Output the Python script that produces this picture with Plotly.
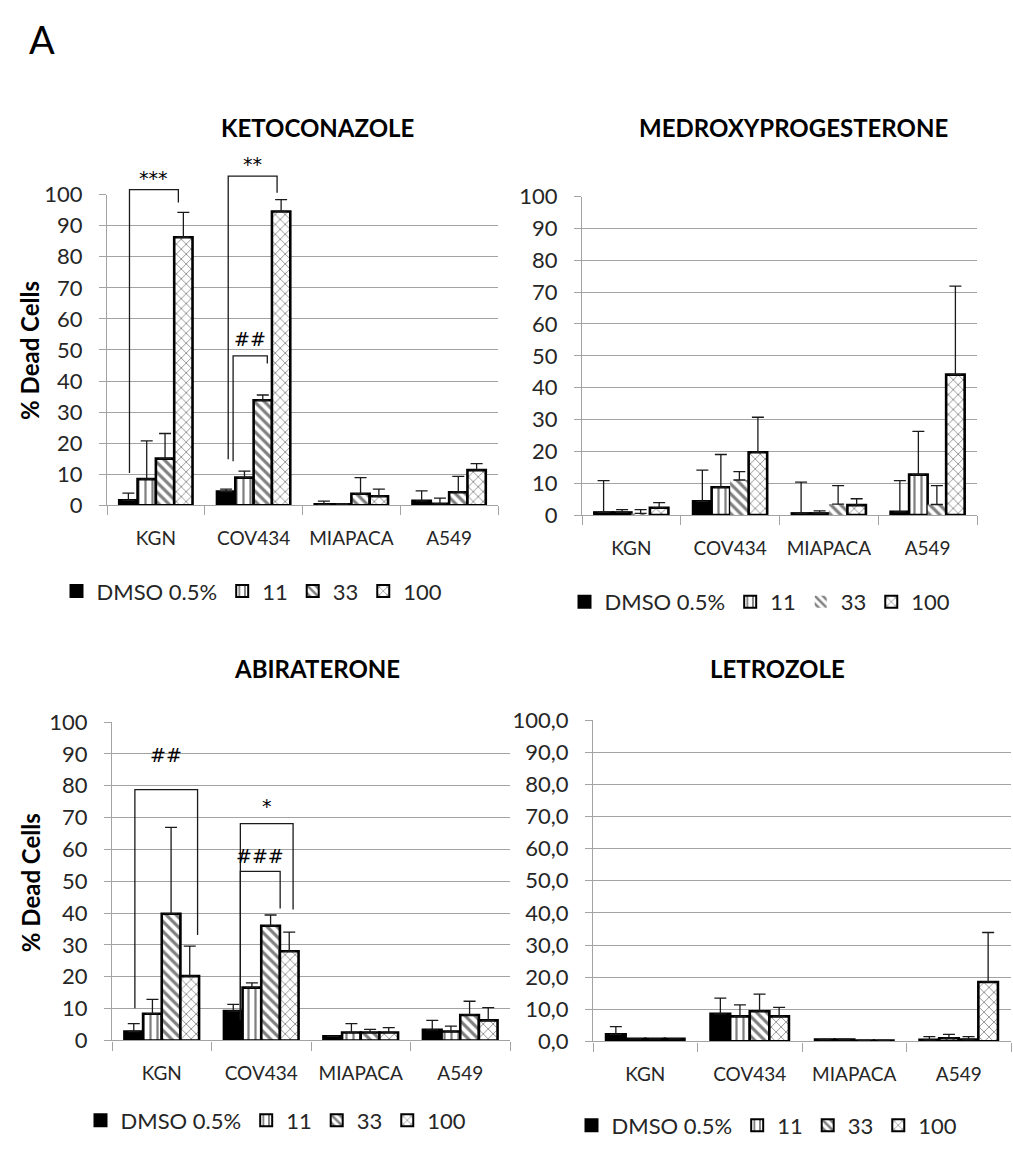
import plotly.graph_objects as go

# ---- data -------------------------------------------------------------
cells = ["KGN", "COV434", "MIAPACA", "A549"]
doses = ["DMSO 0.5%", "11", "33", "100"]
y_ticks = [0, 10, 20, 30, 40, 50, 60, 70, 80, 90, 100]
y_labels_int = ["0", "10", "20", "30", "40", "50", "60", "70", "80", "90", "100"]
y_labels_dec = ["0,0", "10,0", "20,0", "30,0", "40,0", "50,0", "60,0", "70,0", "80,0", "90,0", "100,0"]

# % dead cells (mean) and SD, one list per dose, ordered like `cells`
keto_dmso = [1.6, 4.4, 0.3, 1.4]
keto_11 = [8.4, 8.9, 0.3, 0.5]
keto_33 = [15.0, 33.8, 3.7, 4.2]
keto_100 = [86.3, 94.6, 2.9, 11.3]
keto_dmso_sd = [2.3, 0.8, 1.0, 3.2]
keto_11_sd = [12.3, 2.1, 0.2, 1.8]
keto_33_sd = [8.1, 1.7, 5.2, 5.1]
keto_100_sd = [8.0, 3.8, 2.3, 2.1]

medroxy_dmso = [0.8, 4.3, 0.5, 1.0]
medroxy_11 = [0.8, 8.7, 0.5, 12.7]
medroxy_33 = [0.5, 11.0, 3.4, 3.3]
medroxy_100 = [2.3, 19.7, 3.1, 44.1]
medroxy_dmso_sd = [10.0, 9.8, 9.8, 9.8]
medroxy_11_sd = [0.9, 10.3, 0.8, 13.6]
medroxy_33_sd = [1.2, 2.6, 5.8, 5.9]
medroxy_100_sd = [1.6, 11.0, 2.0, 27.8]

abira_dmso = [2.8, 9.2, 1.3, 3.3]
abira_11 = [8.4, 16.6, 2.5, 2.8]
abira_33 = [39.8, 36.0, 2.5, 8.0]
abira_100 = [20.2, 28.0, 2.5, 6.3]
abira_dmso_sd = [2.5, 2.1, 0.0, 3.0]
abira_11_sd = [4.5, 1.5, 2.8, 1.7]
abira_33_sd = [27.1, 3.4, 1.0, 4.3]
abira_100_sd = [9.4, 6.0, 1.5, 4.0]

letro_dmso = [2.2, 8.6, 0.6, 0.5]
letro_11 = [0.8, 7.8, 0.6, 1.0]
letro_33 = [0.8, 9.4, 0.3, 0.6]
letro_100 = [0.8, 7.8, 0.3, 18.5]
letro_dmso_sd = [2.4, 4.9, 0.0, 1.0]
letro_11_sd = [0.0, 3.6, 0.0, 1.2]
letro_33_sd = [0.0, 5.3, 0.0, 0.9]
letro_100_sd = [0.0, 2.8, 0.0, 15.4]

# ---- figure layout ----------------------------------------------------
W, H = 1013, 1155
FONT = "Lato, 'Open Sans', sans-serif"
TXT = "#262626"
GRID = "#a3a3a3"
BARGAP = 0.25


def px_x(x):
    return x / W


def px_y(y):
    return 1 - y / H


panels = [
    dict(title="KETOCONAZOLE",
         means=[keto_dmso, keto_11, keto_33, keto_100],
         sds=[keto_dmso_sd, keto_11_sd, keto_33_sd, keto_100_sd],
         xdom=[px_x(107), px_x(498)], ydom=[px_y(503), px_y(185)],
         ticktext=y_labels_int, title_xy=(317, 116), ytitle_y=345,
         legend_xy=(252, 591), outline33=True),
    dict(title="MEDROXYPROGESTERONE",
         means=[medroxy_dmso, medroxy_11, medroxy_33, medroxy_100],
         sds=[medroxy_dmso_sd, medroxy_11_sd, medroxy_33_sd, medroxy_100_sd],
         xdom=[px_x(582), px_x(977)], ydom=[px_y(513), px_y(187)],
         ticktext=y_labels_int, title_xy=(793, 116), ytitle_y=None,
         legend_xy=(760, 602), outline33=False),
    dict(title="ABIRATERONE",
         means=[abira_dmso, abira_11, abira_33, abira_100],
         sds=[abira_dmso_sd, abira_11_sd, abira_33_sd, abira_100_sd],
         xdom=[px_x(112), px_x(510)], ydom=[px_y(1051), px_y(725)],
         ticktext=y_labels_int, title_xy=(317, 670), ytitle_y=890,
         legend_xy=(276, 1133), outline33=True),
    dict(title="LETROZOLE",
         means=[letro_dmso, letro_11, letro_33, letro_100],
         sds=[letro_dmso_sd, letro_11_sd, letro_33_sd, letro_100_sd],
         xdom=[px_x(593), px_x(1011)], ydom=[px_y(1052), px_y(723)],
         ticktext=y_labels_dec, title_xy=(777, 670), ytitle_y=None,
         legend_xy=(767, 1138), outline33=True),
]

# fill styles for each dose
styles = [
    dict(color="black", pattern=dict(shape="")),
    dict(color="white", pattern=dict(shape="|", fgcolor="black", bgcolor="white",
                                     size=7, solidity=0.32, fillmode="overlay")),
    dict(color="white", pattern=dict(shape="\\", fgcolor="black", bgcolor="white",
                                     size=7, solidity=0.45, fillmode="overlay")),
    dict(color="white", pattern=dict(shape="x", fgcolor="black", bgcolor="white",
                                     size=7, solidity=0.22, fillmode="overlay")),
]

fig = go.Figure()
layout = dict(
    width=W, height=H, margin=dict(l=0, r=0, t=0, b=0),
    paper_bgcolor="white", plot_bgcolor="white",
    barmode="group", bargap=BARGAP, bargroupgap=0,
    font=dict(family=FONT, size=20, color=TXT),
    annotations=[], shapes=[],
)

for i, p in enumerate(panels):
    n = "" if i == 0 else str(i + 1)
    xa, ya = "x" + n, "y" + n
    leg = "legend" + n
    for d, dose in enumerate(doses):
        st = styles[d]
        line_w = 2.6 if (d != 2 or p["outline33"]) else 0
        fig.add_trace(go.Bar(
            x=cells, y=p["means"][d], name=dose,
            xaxis=xa, yaxis=ya, legend=leg,
            marker=dict(color=st["color"], pattern=st["pattern"],
                        line=dict(color="black", width=line_w)),
            error_y=dict(type="data", symmetric=False, array=p["sds"][d],
                         arrayminus=[0] * len(cells), color="#1a1a1a",
                         thickness=1.3, width=6),
        ))
    layout["xaxis" + n] = dict(
        domain=p["xdom"], anchor=ya, type="category", range=[-0.5, 3.5],
        showline=True, linecolor=GRID, linewidth=1.3,
        ticks="outside", tickson="boundaries", ticklen=9, tickcolor=GRID,
        tickwidth=1.3, showgrid=False, ticklabelstandoff=16,
        tickfont=dict(family=FONT, size=19, color=TXT), fixedrange=True,
    )
    layout["yaxis" + n] = dict(
        domain=p["ydom"], anchor=xa, range=[0, 100],
        tickvals=y_ticks, ticktext=p["ticktext"],
        showgrid=True, gridcolor=GRID, gridwidth=1.3,
        showline=True, linecolor=GRID, linewidth=1.3,
        ticks="outside", ticklen=7, tickcolor=GRID, tickwidth=1.3,
        ticklabelstandoff=12, zeroline=False,
        tickfont=dict(family=FONT, size=22, color=TXT), fixedrange=True,
    )
    lx, ly = p["legend_xy"]
    layout[leg] = dict(
        orientation="h", x=px_x(lx), y=px_y(ly), xanchor="center", yanchor="middle",
        xref="paper", yref="paper", font=dict(family=FONT, size=22, color=TXT),
        bgcolor="rgba(0,0,0,0)", itemsizing="constant", tracegroupgap=0,
        itemclick=False, itemdoubleclick=False,
    )
    tx, ty = p["title_xy"]
    layout["annotations"].append(dict(
        text="<b>%s</b>" % p["title"], x=px_x(tx), y=px_y(ty), xref="paper",
        yref="paper", showarrow=False, xanchor="center", yanchor="middle",
        font=dict(family=FONT, size=24, color="black"),
    ))
    if p["ytitle_y"] is not None:
        layout["annotations"].append(dict(
            text="<b>% Dead Cells</b>", x=px_x(30), y=px_y(p["ytitle_y"]),
            xref="paper", yref="paper", showarrow=False, textangle=-90,
            xanchor="center", yanchor="middle",
            font=dict(family=FONT, size=24, color="black"),
        ))

layout["annotations"].append(dict(
    text="A", x=px_x(42), y=px_y(26), xref="paper", yref="paper",
    showarrow=False, xanchor="center", yanchor="middle",
    font=dict(family=FONT, size=38, color="black"),
))

# significance brackets: (panel, category, left offset, left foot,
#                         right offset, right foot, top, label, label height)
brackets = [
    (0, 0, -0.27, 10.4, 0.23, 97.5, 101.6, "***", 105.5),
    (0, 1, -0.26, 14.8, 0.24, 100.6, 106.0, "**", 110.0),
    (0, 1, -0.21, 14.2, 0.14, 45.6, 48.1, "##", 53.5),
    (2, 0, -0.27, 10.1, 0.36, 33.1, 78.8, "##", 89.5),
    (2, 1, -0.21, 6.4, 0.32, 41.1, 68.1, "*", 73.5),
    (2, 1, -0.21, 6.4, 0.19, 41.4, 53.1, "###", 58.0),
]


def cat_dom(cat, off):
    # category axis spans [-0.5, 3.5]
    return (cat + off + 0.5) / len(cells)


for pi, cat, lo, lf, ro, rf, top, lab, lab_y in brackets:
    n = "" if pi == 0 else str(pi + 1)
    xl, xr = cat_dom(cat, lo), cat_dom(cat, ro)
    layout["shapes"].append(dict(
        type="path", xref="x%s domain" % n, yref="y%s domain" % n,
        path="M %f,%f L %f,%f L %f,%f L %f,%f" % (xl, lf / 100, xl, top / 100,
                                                  xr, top / 100, xr, rf / 100),
        line=dict(color="#1a1a1a", width=1.3),
    ))
    layout["annotations"].append(dict(
        text=lab, x=(xl + xr) / 2, y=lab_y / 100, xref="x%s domain" % n,
        yref="y%s domain" % n, showarrow=False, xanchor="center",
        yanchor="middle", font=dict(family="DejaVu Sans", size=19, color="black"),
    ))

fig.update_layout(**layout)
fig.write_html("out.html", config={"displayModeBar": False})
